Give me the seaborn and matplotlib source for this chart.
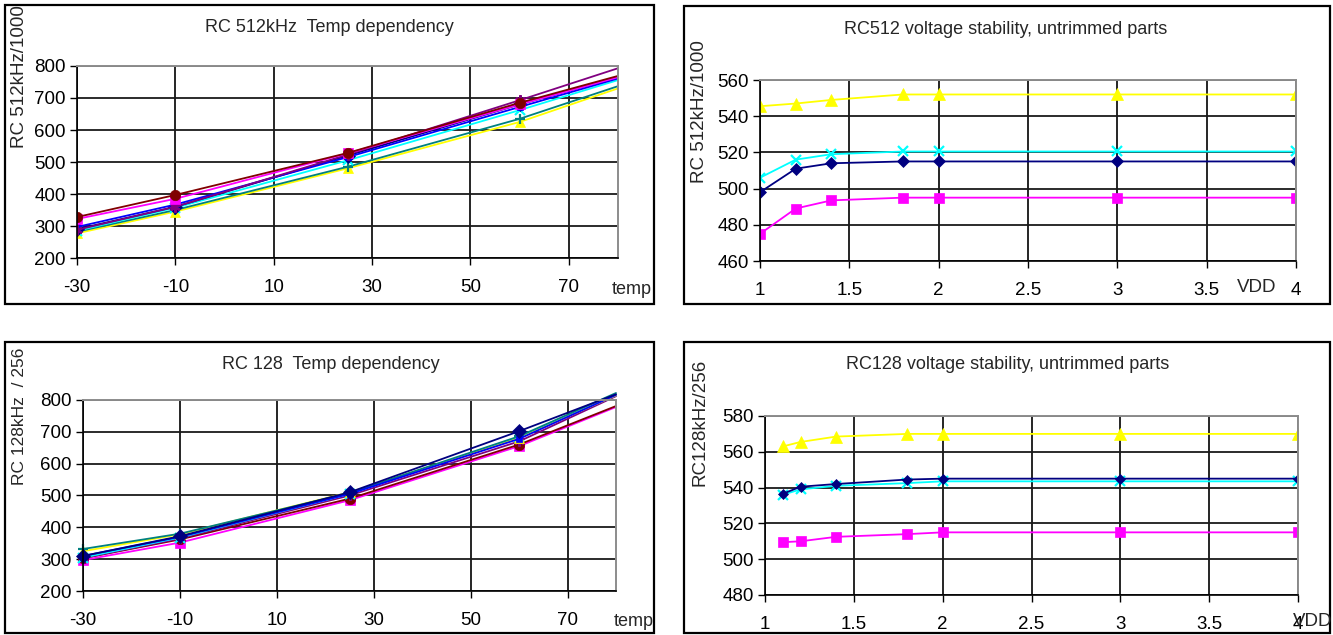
import matplotlib
matplotlib.use("Agg")
import matplotlib.pyplot as plt
from matplotlib.patches import Rectangle
import seaborn as sns

# ─── Data ────────────────────────────────────────────────────────────────────
temps = [-30, -10, 25, 60, 80]          # last point = plot edge, no marker

# RC 512kHz temp dependency (8 parts)
t512_navy    = [290, 360, 520, 680, 765]
t512_magenta = [322, 385, 527, 680, 765]
t512_yellow  = [277, 345, 480, 625, 730]
t512_cyan    = [285, 357, 505, 662, 756]
t512_purple  = [288, 360, 523, 693, 793]
t512_maroon  = [328, 397, 528, 685, 769]
t512_teal    = [282, 350, 485, 635, 737]
t512_blue    = [297, 367, 515, 672, 761]

# RC 128 temp dependency
t128_navy    = [310, 372, 510, 702, 818]
t128_magenta = [297, 352, 485, 655, 778]
t128_yellow  = [325, 378, 510, 680, 815]
t128_cyan    = [305, 368, 505, 684, 815]
t128_purple  = [303, 365, 500, 670, 812]
t128_maroon  = [303, 362, 490, 660, 781]
t128_teal    = [332, 380, 508, 686, 822]
t128_blue    = [310, 370, 505, 678, 816]

# RC512 voltage stability
vdd512 = [1, 1.2, 1.4, 1.8, 2, 3, 4]
v512_navy    = [498, 511, 514, 515, 515, 515, 515]
v512_magenta = [475, 489, 493.5, 495, 495, 495, 495]
v512_yellow  = [545.5, 547, 549, 552, 552, 552, 552]
v512_cyan    = [506, 516, 519, 520.5, 520.5, 520.5, 520.5]

# RC128 voltage stability
vdd128 = [1.1, 1.2, 1.4, 1.8, 2, 3, 4]
v128_navy    = [536.5, 540.5, 542, 544.5, 545, 545, 545]
v128_magenta = [509.5, 510, 512.5, 514, 515, 515, 515]
v128_yellow  = [563, 565.5, 568.5, 570, 570, 570, 570]
v128_cyan    = [536, 539, 541, 542.5, 543.5, 543.5, 543.5]

# Excel default series styles
NAVY, MAGENTA, YELLOW, CYAN = "#000080", "#FF00FF", "#FFFF00", "#00FFFF"
PURPLE, MAROON, TEAL, BLUE = "#800080", "#800000", "#008080", "#0000FF"
ASTER = (6, 2, 0)

W, H = 1333, 635

sns.set_style("white")
plt.rcParams["font.family"] = ["Liberation Sans", "DejaVu Sans"]

fig = plt.figure(figsize=(W / 100, H / 100), dpi=100)


def px_axes(left, top, right, bottom):
    return fig.add_axes([left / W, 1 - bottom / H, (right - left) / W, (bottom - top) / H])


def px_text(x, y, s, **kw):
    fig.text(x / W, 1 - y / H, s, ha=kw.pop("ha", "center"), va=kw.pop("va", "center"), **kw)


def frame(left, top, right, bottom):
    fig.add_artist(Rectangle((left / W, 1 - bottom / H), (right - left) / W, (bottom - top) / H,
                             transform=fig.transFigure, fill=False, lw=1.6, ec="black"))


def series(ax, x, y, color, marker, n_marks, ms=7, clip=True):
    mew = 1.6 if marker in ("x", "+", ASTER) else 0.5
    sns.lineplot(x=x, y=y, color=color, marker=marker, markersize=ms,
                 markeredgecolor=color, markeredgewidth=mew,
                 markevery=list(range(n_marks)), linewidth=1.3,
                 estimator=None, sort=False, clip_on=clip, ax=ax)


def style_axes(ax, xlim, xticks, ylim, yticks, vgrid):
    ax.set_xlim(*xlim)
    ax.set_ylim(*ylim)
    ax.set_xticks(xticks)
    ax.set_yticks(yticks)
    ax.set_xticklabels([f"{t:g}" for t in xticks])
    ax.yaxis.grid(True, color="#1a1a1a", lw=1.3)
    ax.xaxis.grid(vgrid, color="black", lw=1.2)
    ax.set_axisbelow(True)
    for side in ("left", "bottom"):
        ax.spines[side].set_color("black")
        ax.spines[side].set_linewidth(1.2)
    for side in ("top", "right"):
        ax.spines[side].set_color("#8c8c8c")
        ax.spines[side].set_linewidth(1.4)
    ax.tick_params(axis="x", direction="out", length=5, width=1, pad=10,
                   labelsize=13.5, bottom=True, colors="black")
    ax.tick_params(axis="y", direction="out", length=5, width=1, pad=3,
                   labelsize=13.5, left=True, colors="black")
    ax.set_xlabel("")
    ax.set_ylabel("")


# ─── Frames ──────────────────────────────────────────────────────────────────
frame(5, 5, 654, 304)
frame(684, 6, 1330, 304)
frame(5, 342, 654, 633)
frame(684, 342, 1330, 633)

# ─── Top-left: RC 512kHz temp dependency ─────────────────────────────────────
ax1 = px_axes(77, 66, 618, 258)
for vals, col, mk in [
    (t512_yellow, YELLOW, "^"), (t512_teal, TEAL, "+"), (t512_cyan, CYAN, "x"),
    (t512_navy, NAVY, "D"), (t512_blue, BLUE, "s"), (t512_purple, PURPLE, ASTER),
    (t512_magenta, MAGENTA, "s"), (t512_maroon, MAROON, "o"),
]:
    series(ax1, temps, vals, col, mk, 4, ms=5 if col == BLUE else 7.5)
style_axes(ax1, (-30, 80), [-30, -10, 10, 30, 50, 70], (200, 800), range(200, 801, 100), True)
px_text(329, 27, "RC 512kHz  Temp dependency", fontsize=13)
px_text(20, 77, "RC 512kHz/1000", fontsize=13.5, rotation=90)
px_text(632, 289, "temp", fontsize=13)

# ─── Top-right: RC512 voltage stability ──────────────────────────────────────
ax2 = px_axes(760, 80, 1296, 261)
series(ax2, vdd512, v512_yellow, YELLOW, "^", 7, ms=9)
series(ax2, vdd512, v512_cyan, CYAN, "x", 7, ms=6.5)
series(ax2, vdd512, v512_navy, NAVY, "D", 7, ms=6.5)
series(ax2, vdd512, v512_magenta, MAGENTA, "s", 7, ms=7.5)
style_axes(ax2, (1, 4), [1, 1.5, 2, 2.5, 3, 3.5, 4], (460, 560), range(460, 561, 20), False)
px_text(1006, 29, "RC512 voltage stability, untrimmed parts", fontsize=13)
px_text(700, 112, "RC 512kHz/1000", fontsize=13.5, rotation=90)
px_text(1257, 288, "VDD", fontsize=13.5)

# ─── Bottom-left: RC 128 temp dependency ─────────────────────────────────────
ax3 = px_axes(83, 400, 616, 591)
for vals, col, mk in [
    (t128_magenta, MAGENTA, "s"), (t128_maroon, MAROON, "o"), (t128_purple, PURPLE, ASTER),
    (t128_cyan, CYAN, "x"), (t128_yellow, YELLOW, "^"), (t128_teal, TEAL, "+"),
    (t128_blue, BLUE, "s"), (t128_navy, NAVY, "D"),
]:
    series(ax3, temps, vals, col, mk, 4, ms=5 if col == BLUE else 7.5, clip=False)
style_axes(ax3, (-30, 80), [-30, -10, 10, 30, 50, 70], (200, 800), range(200, 801, 100), True)
px_text(331, 364, "RC 128  Temp dependency", fontsize=13)
px_text(20, 416, "RC 128kHz  / 256", fontsize=12.5, rotation=90)
px_text(634, 622, "temp", fontsize=13)

# ─── Bottom-right: RC128 voltage stability ───────────────────────────────────
ax4 = px_axes(765, 416, 1298, 595)
series(ax4, vdd128, v128_yellow, YELLOW, "^", 7, ms=9)
series(ax4, vdd128, v128_cyan, CYAN, "x", 7, ms=6.5)
series(ax4, vdd128, v128_navy, NAVY, "D", 7, ms=5.5)
series(ax4, vdd128, v128_magenta, MAGENTA, "s", 7, ms=7.5)
style_axes(ax4, (1, 4), [1, 1.5, 2, 2.5, 3, 3.5, 4], (480, 580), range(480, 581, 20), False)
px_text(1008, 364, "RC128 voltage stability, untrimmed parts", fontsize=13)
px_text(700, 422, "RC128kHz/256", fontsize=13.5, rotation=90)
px_text(1313, 621, "VDD", fontsize=13.5)

fig.savefig("out.png", dpi=100)
plt.close(fig)
